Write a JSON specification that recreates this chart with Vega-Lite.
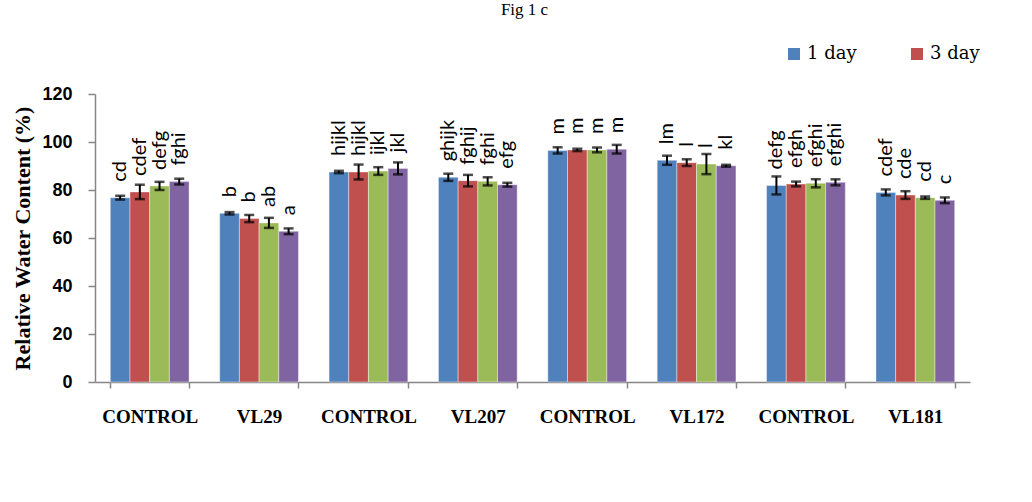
{
  "$schema": "https://vega.github.io/schema/vega-lite/v6.json",
  "width": 875,
  "height": 288,
  "autosize": {"type": "none"},
  "padding": {"left": 95, "top": 94, "right": 62, "bottom": 120},
  "background": "white",
  "title": {"text": "Fig 1 c", "font": "Liberation Serif", "fontSize": 17, "fontWeight": "normal", "color": "black", "anchor": "middle", "frame": "group", "offset": 13, "baseline": "alphabetic", "dx": -8},
  "data": {"values": [
    {"g": "CONTROL-1", "day": "1 day", "v": 76.8, "lo": 76.0, "hi": 77.6, "lab": "cd"},
    {"g": "CONTROL-1", "day": "3 day", "v": 79.2, "lo": 76.2, "hi": 82.2, "lab": "cdef"},
    {"g": "CONTROL-1", "day": "5 day", "v": 81.7, "lo": 80.0, "hi": 83.4, "lab": "defg"},
    {"g": "CONTROL-1", "day": "7 day", "v": 83.5, "lo": 82.3, "hi": 84.7, "lab": "fghi"},
    {"g": "VL29", "day": "1 day", "v": 70.3, "lo": 69.8, "hi": 70.8, "lab": "b"},
    {"g": "VL29", "day": "3 day", "v": 68.1, "lo": 66.6, "hi": 69.6, "lab": "b"},
    {"g": "VL29", "day": "5 day", "v": 66.3, "lo": 64.2, "hi": 68.4, "lab": "ab"},
    {"g": "VL29", "day": "7 day", "v": 62.8, "lo": 61.6, "hi": 64.0, "lab": "a"},
    {"g": "CONTROL-2", "day": "1 day", "v": 87.5, "lo": 87.0, "hi": 88.0, "lab": "hijkl"},
    {"g": "CONTROL-2", "day": "3 day", "v": 87.5, "lo": 84.4, "hi": 90.6, "lab": "hijkl"},
    {"g": "CONTROL-2", "day": "5 day", "v": 87.9, "lo": 86.3, "hi": 89.5, "lab": "ijkl"},
    {"g": "CONTROL-2", "day": "7 day", "v": 89.0, "lo": 86.5, "hi": 91.5, "lab": "jkl"},
    {"g": "VL207", "day": "1 day", "v": 85.3, "lo": 83.8, "hi": 86.8, "lab": "ghijk"},
    {"g": "VL207", "day": "3 day", "v": 83.9, "lo": 81.5, "hi": 86.3, "lab": "fghij"},
    {"g": "VL207", "day": "5 day", "v": 83.6, "lo": 81.9, "hi": 85.3, "lab": "fghi"},
    {"g": "VL207", "day": "7 day", "v": 82.2, "lo": 81.4, "hi": 83.0, "lab": "efg"},
    {"g": "CONTROL-3", "day": "1 day", "v": 96.5, "lo": 95.2, "hi": 97.8, "lab": "m"},
    {"g": "CONTROL-3", "day": "3 day", "v": 96.7, "lo": 96.2, "hi": 97.2, "lab": "m"},
    {"g": "CONTROL-3", "day": "5 day", "v": 96.7, "lo": 95.7, "hi": 97.7, "lab": "m"},
    {"g": "CONTROL-3", "day": "7 day", "v": 97.0, "lo": 95.2, "hi": 98.8, "lab": "m"},
    {"g": "VL172", "day": "1 day", "v": 92.4, "lo": 90.5, "hi": 94.3, "lab": "lm"},
    {"g": "VL172", "day": "3 day", "v": 91.4, "lo": 90.0, "hi": 92.8, "lab": "l"},
    {"g": "VL172", "day": "5 day", "v": 90.8, "lo": 86.6, "hi": 95.0, "lab": "l"},
    {"g": "VL172", "day": "7 day", "v": 90.1, "lo": 89.7, "hi": 90.5, "lab": "kl"},
    {"g": "CONTROL-4", "day": "1 day", "v": 81.9, "lo": 78.15, "hi": 85.65, "lab": "defg"},
    {"g": "CONTROL-4", "day": "3 day", "v": 82.5, "lo": 81.5, "hi": 83.5, "lab": "efgh"},
    {"g": "CONTROL-4", "day": "5 day", "v": 82.8, "lo": 81.1, "hi": 84.5, "lab": "efghi"},
    {"g": "CONTROL-4", "day": "7 day", "v": 83.2, "lo": 81.95, "hi": 84.45, "lab": "efghi"},
    {"g": "VL181", "day": "1 day", "v": 79.0, "lo": 77.75, "hi": 80.25, "lab": "cdef"},
    {"g": "VL181", "day": "3 day", "v": 77.9, "lo": 76.3, "hi": 79.5, "lab": "cde"},
    {"g": "VL181", "day": "5 day", "v": 76.8, "lo": 76.3, "hi": 77.3, "lab": "cd"},
    {"g": "VL181", "day": "7 day", "v": 75.7, "lo": 74.5, "hi": 76.9, "lab": "c"}
  ]},
  "encoding": {
    "x": {"field": "g", "type": "nominal", "sort": null,
      "scale": {"paddingInner": 0.28, "paddingOuter": 0.14},
      "axis": {"title": null, "labelAngle": 0, "labelExpr": "split(datum.label, '-')[0]",
        "labelFont": "Liberation Serif", "labelFontWeight": "bold", "labelFontSize": 19, "labelColor": "black",
        "labelPadding": 19, "tickBand": "extent", "tickSize": 6, "tickColor": "#868686", "domainColor": "#868686", "domainWidth": 1.5, "tickWidth": 1.5}},
    "xOffset": {"field": "day", "type": "nominal", "sort": ["1 day", "3 day", "5 day", "7 day"], "scale": {"paddingInner": 0, "paddingOuter": 0}}
  },
  "layer": [
    {
      "mark": {"type": "bar", "stroke": "#ffffff", "strokeOpacity": 0.5, "strokeWidth": 0.8},
      "encoding": {
        "y": {"field": "v", "type": "quantitative",
          "scale": {"domain": [0, 120], "nice": false},
          "axis": {"title": "Relative Water Content (%)", "values": [0, 20, 40, 60, 80, 100, 120], "grid": false,
            "titleFont": "Liberation Serif", "titleFontWeight": "bold", "titleFontSize": 22, "titleColor": "black", "titlePadding": 7,
            "labelFont": "Liberation Sans", "labelFontWeight": "bold", "labelFontSize": 18, "labelColor": "black", "labelPadding": 16,
            "tickSize": 7, "tickColor": "#868686", "domainColor": "#868686", "domainWidth": 1.5, "tickWidth": 1.5}},
        "color": {"field": "day", "type": "nominal",
          "scale": {"domain": ["1 day", "3 day", "5 day", "7 day"], "range": ["#4F81BD", "#C0504D", "#9BBB59", "#8064A2"]},
          "legend": {"title": null, "values": ["1 day", "3 day"], "orient": "none", "direction": "horizontal",
            "legendX": 690, "legendY": -49, "padding": 0, "symbolType": "square", "symbolSize": 144, "symbolStrokeWidth": 0,
            "labelFont": "DejaVu Serif", "labelFontSize": 18, "labelColor": "black", "labelOffset": 4, "columnPadding": 51}}
      }
    },
    {
      "mark": {"type": "rule", "color": "black", "strokeWidth": 2},
      "encoding": {"y": {"field": "lo", "type": "quantitative"}, "y2": {"field": "hi"}}
    },
    {
      "mark": {"type": "tick", "orient": "horizontal", "color": "black", "size": 10, "thickness": 2.5},
      "encoding": {"y": {"field": "lo", "type": "quantitative"}}
    },
    {
      "mark": {"type": "tick", "orient": "horizontal", "color": "black", "size": 10, "thickness": 2.5},
      "encoding": {"y": {"field": "hi", "type": "quantitative"}}
    },
    {
      "mark": {"type": "text", "angle": 270, "align": "left", "baseline": "middle", "dx": 16, "font": "Lato", "fontSize": 20, "color": "black"},
      "encoding": {"y": {"field": "v", "type": "quantitative"}, "text": {"field": "lab"}}
    }
  ],
  "config": {"view": {"stroke": null}}
}
